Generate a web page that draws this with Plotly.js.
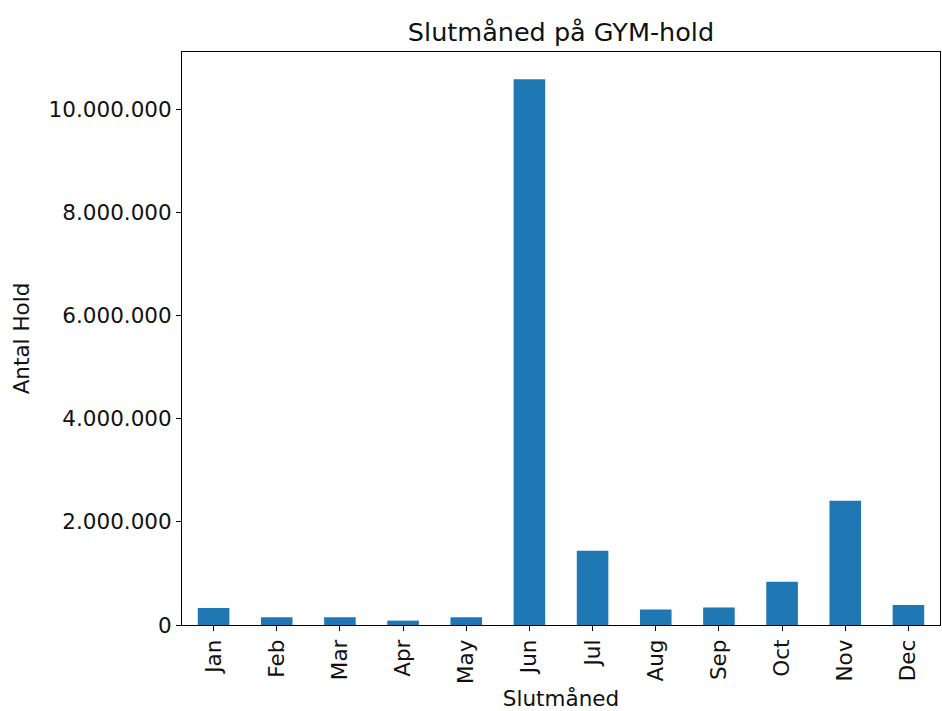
<!DOCTYPE html>
<html>
<head>
<meta charset="utf-8">
<script src="https://cdn.plot.ly/plotly-3.0.1.min.js"></script>
<style>html,body{margin:0;padding:0;background:#fff;}#chart{width:942px;height:711px;}</style>
</head>
<body>
<div id="chart"></div>
<script>
const months = ["Jan","Feb","Mar","Apr","May","Jun","Jul","Aug","Sep","Oct","Nov","Dec"];
const counts = [330000, 150000, 150000, 85000, 150000, 10590000, 1440000, 300000, 340000, 840000, 2410000, 390000];
const yTicks = [0, 2000000, 4000000, 6000000, 8000000, 10000000];

const font = {family: "DejaVu Sans", size: 21.5, color: "#111"};

Plotly.newPlot("chart", [{
  type: "bar",
  x: months,
  y: counts,
  width: 0.5,
  marker: {color: "#1f77b4"},
  hoverinfo: "x+y"
}], {
  width: 942, height: 711,
  margin: {l: 182, r: 2, t: 52, b: 86},
  paper_bgcolor: "#fff", plot_bgcolor: "#fff",
  separators: ",.",
  font: font,
  showlegend: false,
  title: {text: "Slutmåned på GYM-hold", font: {family: "DejaVu Sans", size: 25.5, color: "#111"}, x: 0.5, xref: "paper", xanchor: "center", y: 1, yref: "paper", yanchor: "bottom", pad: {b: 11}},
  xaxis: {
    type: "category",
    range: [-0.5, 11.5],
    tickangle: -90,
    ticks: "outside", ticklen: 5, tickwidth: 1, tickcolor: "#000",
    showline: true, linecolor: "#000", linewidth: 1, mirror: true,
    showgrid: false, zeroline: false,
    tickfont: font,
    title: {text: "Slutmåned", font: font, standoff: 9}
  },
  yaxis: {
    range: [0, 11120000],
    tickvals: yTicks,
    tickformat: ",d",
    ticks: "outside", ticklen: 5, tickwidth: 1, tickcolor: "#000",
    showline: true, linecolor: "#000", linewidth: 1, mirror: true,
    showgrid: false, zeroline: false,
    tickfont: font,
    title: {text: "Antal Hold", font: font, standoff: 13}
  }
}, {displayModeBar: false, staticPlot: true});
</script>
</body>
</html>
